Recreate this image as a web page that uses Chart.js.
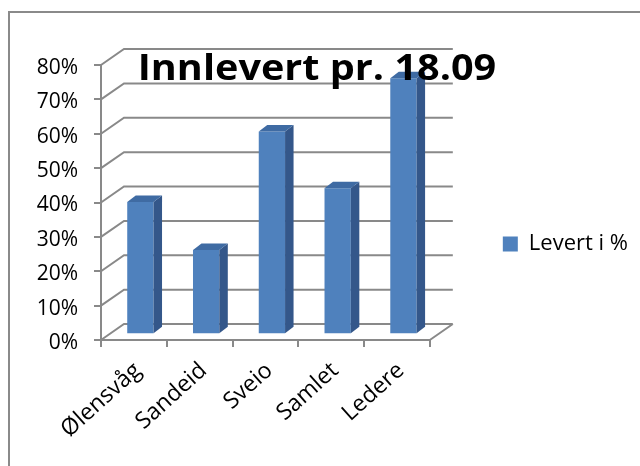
<!DOCTYPE html>
<html lang="no">
<head>
<meta charset="utf-8">
<title>Innlevert pr. 18.09</title>
<script src="https://cdn.jsdelivr.net/npm/chart.js@4.4.1/dist/chart.umd.min.js"></script>
<style>
  html, body { margin: 0; padding: 0; background: #fff; overflow: hidden; }
  .wrap { position: relative; width: 640px; height: 466px; }
  .frame {
    position: absolute; left: 8px; top: 11px; width: 700px; height: 500px;
    border: 2px solid #8a8a8a; box-sizing: border-box;
  }
  #chart { position: absolute; left: 0; top: 0; }
  .title {
    position: absolute; left: 0; top: 49px; width: 634px; text-align: center;
    font: bold 36px/36px "Open Sans", sans-serif; color: #000;
    transform: scaleX(1.1);
  }
</style>
</head>
<body>
<div class="wrap">
  <div class="frame"></div>
  <canvas id="chart" width="640" height="466"></canvas>
  <div class="title">Innlevert pr. 18.09</div>
</div>
<script>
const categories = ["Ølensvåg", "Sandeid", "Sveio", "Samlet", "Ledere"];
const levertProsent = [38.5, 24.5, 59, 42.5, 74.5];
const seriesLabel = "Levert i %";
const yMax = 80;
const yStep = 10;

const GRID = "#898989";
// oblique 3d look, like the old excel chart
const WALL = { dx: 23, dy: -16 };
const BAR_SHIFT = { dx: 6.5, dy: -5.7 };
const BAR_DEPTH = { dx: 8.5, dy: -6.5 };

const excel3d = {
  id: "excel3d",
  beforeDatasetsDraw(chart) {
    const { ctx, chartArea: a } = chart;
    const y = chart.scales.y;
    ctx.save();
    ctx.strokeStyle = GRID;
    ctx.lineWidth = 2;
    ctx.beginPath();
    y.ticks.forEach((t) => {
      const py = y.getPixelForValue(t.value);
      ctx.moveTo(a.left, py);
      ctx.lineTo(a.left + WALL.dx, py + WALL.dy);
      ctx.lineTo(a.right + WALL.dx, py + WALL.dy);
    });
    const y0 = y.getPixelForValue(0);
    ctx.moveTo(a.right, y0);
    ctx.lineTo(a.right + WALL.dx, y0 + WALL.dy);
    ctx.stroke();
    ctx.restore();

    // bars sit in the middle of the depth
    ctx.save();
    ctx.translate(BAR_SHIFT.dx, BAR_SHIFT.dy);
  },
  afterDatasetsDraw(chart) {
    const { ctx } = chart;
    chart.getDatasetMeta(0).data.forEach((bar) => {
      const { x, y, base, width } = bar.getProps(["x", "y", "base", "width"], true);
      const l = x - width / 2;
      const r = x + width / 2;

      ctx.fillStyle = "#34578a";
      ctx.beginPath();
      ctx.moveTo(r, y);
      ctx.lineTo(r + BAR_DEPTH.dx, y + BAR_DEPTH.dy);
      ctx.lineTo(r + BAR_DEPTH.dx, base + BAR_DEPTH.dy);
      ctx.lineTo(r, base);
      ctx.closePath();
      ctx.fill();

      ctx.fillStyle = "#3f6ba3";
      ctx.beginPath();
      ctx.moveTo(l, y);
      ctx.lineTo(l + BAR_DEPTH.dx, y + BAR_DEPTH.dy);
      ctx.lineTo(r + BAR_DEPTH.dx, y + BAR_DEPTH.dy);
      ctx.lineTo(r, y);
      ctx.closePath();
      ctx.fill();
    });
    ctx.restore();
  },
};

Chart.defaults.font.family = '"Open Sans", sans-serif';
Chart.defaults.color = "#000";

new Chart(document.getElementById("chart"), {
  type: "bar",
  data: {
    labels: categories,
    datasets: [
      {
        label: seriesLabel,
        data: levertProsent,
        backgroundColor: "#4f81bd",
        borderWidth: 0,
        barPercentage: 0.4,
        categoryPercentage: 1,
      },
    ],
  },
  options: {
    responsive: false,
    animation: false,
    layout: { padding: { top: 65, left: 0, right: 2, bottom: 0 } },
    scales: {
      x: {
        offset: true,
        grid: {
          drawOnChartArea: false,
          tickLength: 7,
          color: GRID,
          lineWidth: 2,
        },
        border: { color: GRID, width: 2 },
        ticks: {
          font: { size: 23 },
          color: "#000",
          autoSkip: false,
          minRotation: 42,
          maxRotation: 42,
          padding: 10,
          labelOffset: 4,
        },
        afterFit: (s) => {
          s.height = 126;
        },
      },
      y: {
        min: 0,
        max: yMax,
        grid: {
          drawOnChartArea: false,
          tickLength: 7,
          color: GRID,
          lineWidth: 2,
        },
        border: { color: GRID, width: 2 },
        ticks: {
          stepSize: yStep,
          font: { size: 21 },
          color: "#000",
          padding: 16,
          labelOffset: 3,
          callback: (v) => v + "%",
        },
        afterFit: (s) => {
          s.width = 101;
        },
      },
    },
    plugins: {
      legend: {
        position: "right",
        fullSize: false,
        maxWidth: 300,
        // empty title only pushes the entry down to mid height
        title: { display: true, text: "", font: { size: 1 }, padding: { top: 82, bottom: 0 } },
        labels: {
          boxWidth: 15,
          boxHeight: 15,
          padding: 73,
          font: { size: 22 },
          color: "#000",
        },
      },
      tooltip: { enabled: false },
    },
  },
  plugins: [excel3d],
});
</script>
</body>
</html>
